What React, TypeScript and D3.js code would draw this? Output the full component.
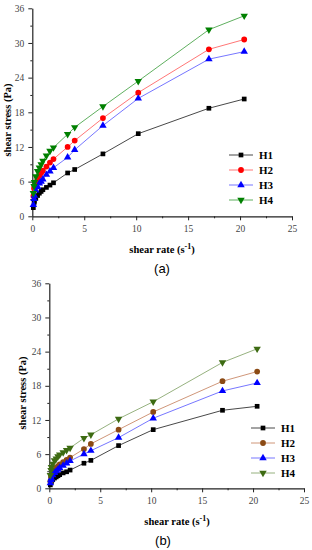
import React, { useEffect, useRef } from 'react';
import * as d3 from 'd3';

// shear rates (s^-1) of the viscometer speeds
const shearRate = [0.102, 0.17, 0.204, 0.34, 0.51, 0.68, 0.85, 1.02, 1.36, 1.7, 2.04, 3.4, 4.08, 6.8, 10.2, 17, 20.4];
const seriesNames = ['H1', 'H2', 'H3', 'H4'];

// panel (a) shear stress (Pa)
const stressA_H1 = [1.5, 2.3, 2.6, 3.1, 3.6, 4.0, 4.3, 4.6, 5.0, 5.4, 5.8, 7.5, 8.1, 10.8, 14.3, 18.7, 20.3];
const stressA_H2 = [3.5, 4.8, 5.2, 5.9, 6.5, 7.0, 7.5, 7.9, 8.6, 9.3, 9.9, 12.0, 13.1, 17.0, 21.4, 28.9, 30.6];
const stressA_H3 = [2.0, 3.0, 3.6, 4.5, 5.1, 5.7, 6.0, 6.4, 7.2, 7.8, 8.4, 10.2, 11.5, 15.7, 20.4, 27.2, 28.5];
const stressA_H4 = [4.0, 5.2, 5.9, 6.9, 7.8, 8.4, 9.0, 9.6, 10.5, 11.3, 11.9, 14.2, 15.4, 19.0, 23.4, 32.3, 34.7];

// panel (b) shear stress (Pa)
const stressB_H1 = [0.6, 1.0, 1.2, 1.5, 1.8, 2.0, 2.2, 2.4, 2.7, 2.9, 3.2, 4.4, 4.9, 7.5, 10.3, 13.7, 14.4];
const stressB_H2 = [1.2, 1.9, 2.2, 2.7, 3.2, 3.6, 3.9, 4.2, 4.6, 5.0, 5.4, 6.9, 7.8, 10.3, 13.4, 18.8, 20.5];
const stressB_H3 = [0.9, 1.5, 1.8, 2.3, 2.7, 3.0, 3.3, 3.6, 4.0, 4.4, 4.8, 6.0, 6.6, 8.9, 12.3, 17.1, 18.5];
const stressB_H4 = [2.3, 3.2, 3.7, 4.3, 4.9, 5.2, 5.6, 5.9, 6.3, 6.7, 7.1, 8.8, 9.4, 12.2, 15.2, 22.1, 24.5];

const xTicks = [0, 5, 10, 15, 20, 25];
const yTicks = [0, 6, 12, 18, 24, 30, 36];

const symbols = [d3.symbolSquare, d3.symbolCircle, d3.symbolTriangle, d3.symbolTriangle];
const serif = '"Liberation Serif", "Times New Roman", serif';

const panels = [
  {
    tag: '(a)', series: [stressA_H1, stressA_H2, stressA_H3, stressA_H4],
    colors: ['#000000', '#ff0000', '#0000ff', '#008000'],
    lineColors: ['#333333', '#ff6666', '#6666ff', '#4da64d'],
    x0: 32.3, x1: 292, yTop: 8.3, yBottom: 216.3,
    yLabelX: 11, yLabelY: 120, xLabelX: 162, xLabelY: 253, tagX: 162, tagY: 273,
    legX: 229, legY: 155,
  },
  {
    tag: '(b)', series: [stressB_H1, stressB_H2, stressB_H3, stressB_H4],
    colors: ['#000000', '#8b4a14', '#0000ff', '#3d6b12'],
    lineColors: ['#333333', '#c98a6a', '#6666ff', '#8aa870'],
    x0: 49.3, x1: 304, yTop: 283.3, yBottom: 488.3,
    yLabelX: 26, yLabelY: 393, xLabelX: 177, xLabelY: 525, tagX: 163, tagY: 545,
    legX: 251, legY: 428,
  },
];

function App() {
  const ref = useRef<SVGSVGElement>(null);

  useEffect(() => {
    const svg = d3.select(ref.current);
    svg.selectAll('*').remove();

    panels.forEach((p) => {
      const x = d3.scaleLinear().domain([0, 25]).range([p.x0, p.x1]);
      const y = d3.scaleLinear().domain([0, 36]).range([p.yBottom, p.yTop]);
      const g = svg.append('g');

      // x axis
      const xAxis = g.append('g').attr('transform', `translate(0,${p.yBottom})`)
        .call(d3.axisBottom(x).tickValues(xTicks).tickSize(4).tickSizeOuter(0).tickFormat(d3.format('d')));
      g.append('g').attr('transform', `translate(0,${p.yBottom})`)
        .call(d3.axisBottom(x).tickValues(d3.range(2.5, 25, 5)).tickSize(2).tickSizeOuter(0).tickFormat(() => ''))
        .select('.domain').remove();

      // y axis
      const yAxis = g.append('g').attr('transform', `translate(${p.x0},0)`)
        .call(d3.axisLeft(y).tickValues(yTicks).tickSize(4).tickSizeOuter(0).tickFormat(d3.format('d')));
      g.append('g').attr('transform', `translate(${p.x0},0)`)
        .call(d3.axisLeft(y).tickValues(d3.range(3, 36, 6)).tickSize(2).tickSizeOuter(0).tickFormat(() => ''))
        .select('.domain').remove();

      g.selectAll('.domain').attr('stroke', '#222').attr('stroke-width', 1.2);
      g.selectAll('.tick line').attr('stroke', '#222');
      xAxis.selectAll('text').attr('font-family', serif).attr('font-size', 9.5).attr('fill', '#444').attr('dy', '0.9em');
      yAxis.selectAll('text').attr('font-family', serif).attr('font-size', 9.5).attr('fill', '#444').attr('dx', '-0.1em');

      // axis titles
      g.append('text')
        .attr('transform', `translate(${p.yLabelX},${p.yLabelY}) rotate(-90)`)
        .attr('text-anchor', 'middle').attr('font-family', serif).attr('font-weight', 'bold').attr('font-size', 10.5)
        .text('shear stress (Pa)');
      const xl = g.append('text').attr('x', p.xLabelX).attr('y', p.xLabelY)
        .attr('text-anchor', 'middle').attr('font-family', serif).attr('font-weight', 'bold').attr('font-size', 10.5);
      xl.append('tspan').text('shear rate (s');
      xl.append('tspan').attr('dy', -4).attr('font-size', 8).text('-1');
      xl.append('tspan').attr('dy', 4).text(')');
      g.append('text').attr('x', p.tagX).attr('y', p.tagY).attr('text-anchor', 'middle')
        .attr('font-family', '"Liberation Sans", Arial, sans-serif').attr('font-size', 13).text(p.tag);

      const line = d3.line<number>().x((d, i) => x(shearRate[i])).y((d) => y(d));

      p.series.forEach((vals, k) => {
        const sym = d3.symbol().type(symbols[k]).size(k === 1 ? 26 : k === 0 ? 22 : 24);
        g.append('path').datum(vals).attr('d', line).attr('fill', 'none')
          .attr('stroke', p.lineColors[k]).attr('stroke-width', 0.9);
        g.selectAll(null).data(vals).enter().append('path')
          .attr('d', sym)
          .attr('transform', (d, i) => `translate(${x(shearRate[i])},${y(d)})${k === 3 ? ' rotate(180)' : ''}`)
          .attr('fill', p.colors[k]);

        // legend
        const ly = p.legY + k * 15;
        g.append('line').attr('x1', p.legX).attr('x2', p.legX + 24).attr('y1', ly).attr('y2', ly)
          .attr('stroke', p.lineColors[k]).attr('stroke-width', 0.9);
        g.append('path').attr('d', sym)
          .attr('transform', `translate(${p.legX + 12},${ly})${k === 3 ? ' rotate(180)' : ''}`)
          .attr('fill', p.colors[k]);
        g.append('text').attr('x', p.legX + 30).attr('y', ly + 3.8)
          .attr('font-family', serif).attr('font-weight', 'bold').attr('font-size', 11)
          .text(seriesNames[k]);
      });
    });

    return () => {
      d3.select(ref.current).selectAll('*').remove();
    };
  }, []);

  return (
    <svg ref={ref} width={312} height={550}
      style={{ position: 'absolute', left: 0, top: 0, background: '#fff' }} />
  );
}

export default App;
